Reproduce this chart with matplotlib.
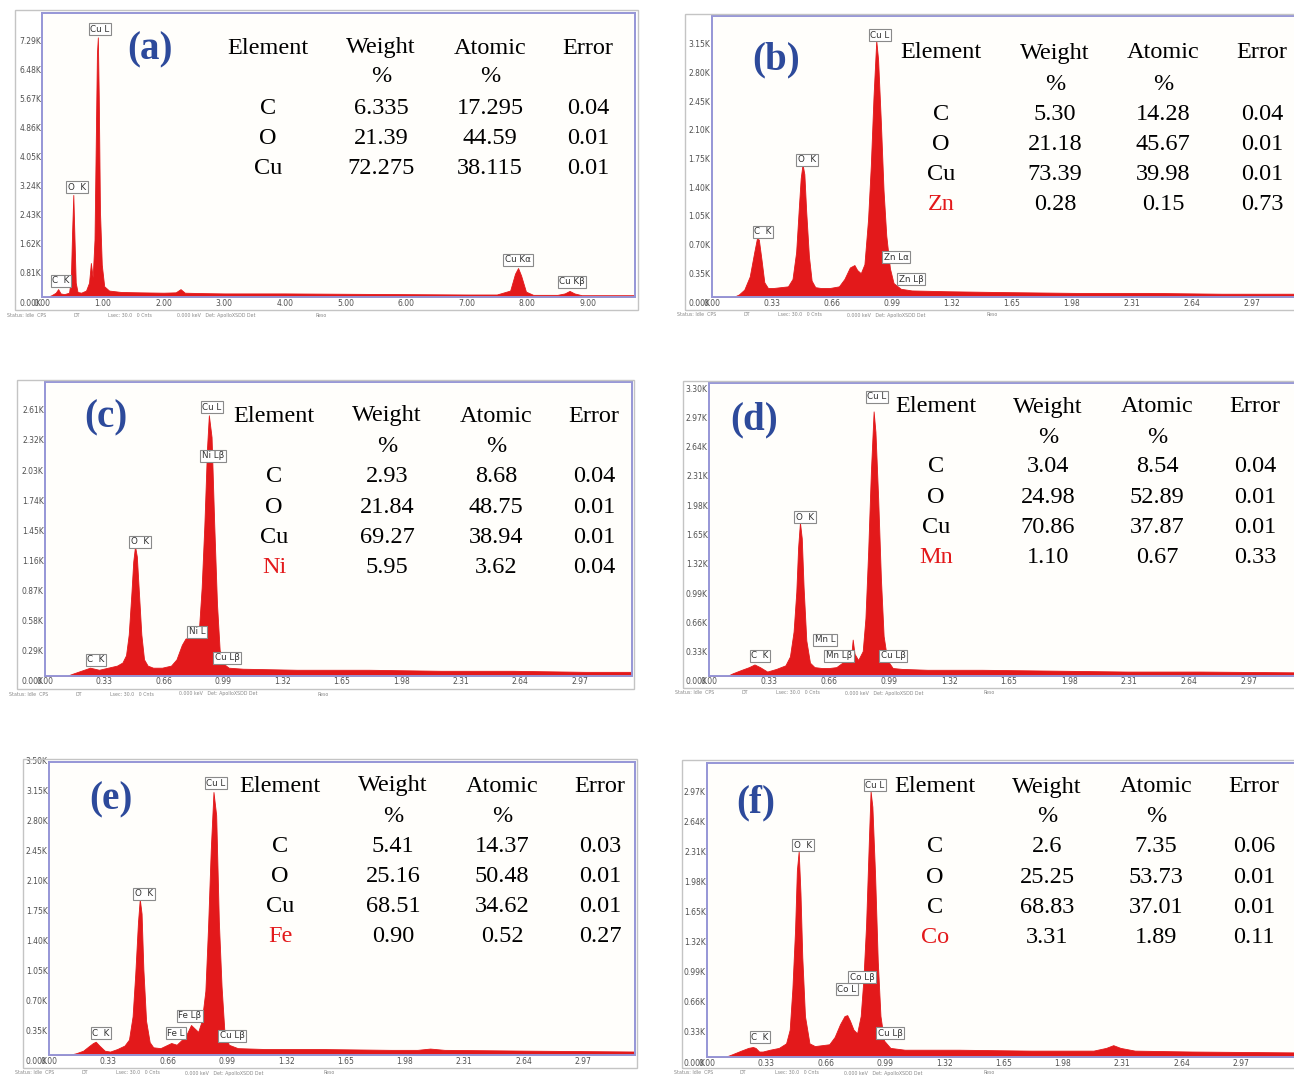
import matplotlib
matplotlib.use("Agg")
import matplotlib.pyplot as plt
import matplotlib.transforms as mtransforms
from matplotlib.patches import Rectangle

W, H = 1294, 1076

# ---- spectra (energy in keV, counts in K) ----
energy_a = [0.00, 0.08, 0.15, 0.22, 0.26, 0.30, 0.36, 0.44, 0.47, 0.49, 0.51, 0.53, 0.55, 0.58,
            0.64, 0.72, 0.77, 0.80, 0.83, 0.86, 0.88, 0.90, 0.915, 0.93, 0.95, 0.98, 1.02, 1.10,
            1.3, 1.6, 2.0, 2.2, 2.28, 2.35, 2.6, 3.0, 4.0, 5.0, 6.0, 7.0, 7.5, 7.72, 7.80, 7.85,
            7.90, 7.98, 8.1, 8.5, 8.62, 8.70, 8.78, 8.9, 9.4, 9.8]
counts_a = [0.00, 0.00, 0.05, 0.12, 0.22, 0.10, 0.08, 0.12, 0.50, 1.80, 2.85, 1.60, 0.40, 0.14,
            0.12, 0.18, 0.40, 0.95, 0.55, 1.60, 4.20, 6.80, 7.25, 5.60, 2.40, 0.90, 0.30, 0.18,
            0.14, 0.13, 0.12, 0.13, 0.22, 0.12, 0.11, 0.10, 0.10, 0.09, 0.08, 0.07, 0.07, 0.18,
            0.65, 0.81, 0.60, 0.15, 0.06, 0.06, 0.10, 0.17, 0.10, 0.05, 0.05, 0.05]

energy_b = [0.00, 0.12, 0.15, 0.18, 0.21, 0.235, 0.25, 0.26, 0.275, 0.29, 0.31, 0.34, 0.38, 0.42,
            0.445, 0.465, 0.48, 0.49, 0.50, 0.51, 0.52, 0.535, 0.55, 0.57, 0.60, 0.65, 0.70, 0.73,
            0.76, 0.785, 0.80, 0.82, 0.84, 0.86, 0.875, 0.89, 0.905, 0.915, 0.93, 0.945, 0.96,
            0.98, 1.00, 1.04, 1.10, 1.3, 1.6, 2.0, 2.4, 2.8, 3.3]
counts_b = [0.00, 0.00, 0.03, 0.09, 0.25, 0.55, 0.72, 0.70, 0.45, 0.18, 0.11, 0.11, 0.12, 0.13,
            0.22, 0.55, 1.10, 1.45, 1.62, 1.50, 1.05, 0.50, 0.20, 0.12, 0.11, 0.11, 0.13, 0.22,
            0.36, 0.39, 0.33, 0.29, 0.40, 0.95, 1.60, 2.45, 3.13, 2.90, 2.15, 1.30, 0.75,
            0.35, 0.17, 0.10, 0.08, 0.07, 0.06, 0.05, 0.05, 0.04, 0.04]

energy_c = [0.00, 0.12, 0.15, 0.20, 0.25, 0.30, 0.35, 0.40, 0.43, 0.45, 0.465, 0.48, 0.49, 0.50,
            0.51, 0.52, 0.535, 0.55, 0.57, 0.60, 0.65, 0.70, 0.73, 0.76, 0.78, 0.80, 0.82, 0.84,
            0.855, 0.87, 0.885, 0.90, 0.91, 0.925, 0.94, 0.955, 0.97, 0.99, 1.02, 1.10, 1.4,
            1.8, 2.2, 2.6, 3.0, 3.3]
counts_c = [0.00, 0.00, 0.02, 0.05, 0.08, 0.06, 0.08, 0.10, 0.13, 0.20, 0.40, 0.80, 1.10, 1.25,
            1.15, 0.85, 0.40, 0.16, 0.10, 0.08, 0.08, 0.10, 0.16, 0.30, 0.36, 0.37, 0.38, 0.36,
            0.45, 0.85, 1.45, 2.20, 2.51, 2.30, 1.45, 0.70, 0.25, 0.12, 0.08, 0.07, 0.06,
            0.06, 0.05, 0.05, 0.04, 0.04]

energy_d = [0.00, 0.10, 0.13, 0.18, 0.22, 0.25, 0.28, 0.32, 0.37, 0.42, 0.445, 0.465, 0.48, 0.49,
            0.50, 0.51, 0.52, 0.535, 0.555, 0.58, 0.62, 0.66, 0.70, 0.74, 0.77, 0.785, 0.79,
            0.80, 0.82, 0.845, 0.86, 0.875, 0.89, 0.905, 0.915, 0.93, 0.945, 0.96, 0.98, 1.01,
            1.06, 1.2, 1.5, 1.9, 2.3, 2.7, 3.3]
counts_d = [0.00, 0.00, 0.03, 0.07, 0.10, 0.13, 0.10, 0.05, 0.08, 0.12, 0.22, 0.50, 0.95, 1.45,
            1.73, 1.55, 1.00, 0.40, 0.15, 0.10, 0.09, 0.09, 0.10, 0.16, 0.22, 0.30, 0.41,
            0.25, 0.18, 0.28, 0.65, 1.40, 2.30, 2.98, 2.75, 2.00, 1.10, 0.45, 0.18, 0.09,
            0.08, 0.07, 0.07, 0.06, 0.05, 0.05, 0.04]

energy_e = [0.00, 0.11, 0.15, 0.19, 0.22, 0.245, 0.26, 0.28, 0.31, 0.34, 0.38, 0.42, 0.445, 0.465,
            0.48, 0.495, 0.505, 0.515, 0.525, 0.54, 0.56, 0.58, 0.62, 0.66, 0.68, 0.71, 0.74,
            0.765, 0.79, 0.80, 0.83, 0.85, 0.87, 0.885, 0.90, 0.915, 0.93, 0.945, 0.96, 0.975,
            1.00, 1.05, 1.2, 1.5, 1.9, 2.05, 2.12, 2.2, 2.7, 3.3]
counts_e = [0.00, 0.00, 0.02, 0.05, 0.10, 0.14, 0.155, 0.11, 0.05, 0.04, 0.07, 0.11, 0.18, 0.45,
            0.95, 1.55, 1.82, 1.65, 1.00, 0.40, 0.15, 0.09, 0.08, 0.12, 0.14, 0.12, 0.18,
            0.24, 0.35, 0.33, 0.27, 0.40, 0.75, 1.50, 2.40, 3.07, 2.80, 1.55, 0.80, 0.30,
            0.12, 0.08, 0.07, 0.07, 0.06, 0.06, 0.075, 0.06, 0.05, 0.04]

energy_f = [0.00, 0.10, 0.14, 0.19, 0.23, 0.255, 0.27, 0.29, 0.31, 0.35, 0.40, 0.44, 0.46, 0.475,
            0.49, 0.50, 0.51, 0.52, 0.53, 0.545, 0.57, 0.60, 0.64, 0.68, 0.71, 0.74, 0.765,
            0.78, 0.795, 0.815, 0.835, 0.855, 0.87, 0.885, 0.90, 0.91, 0.92, 0.935, 0.95,
            0.965, 0.985, 1.02, 1.1, 1.4, 1.8, 2.15, 2.22, 2.26, 2.30, 2.38, 2.7, 3.3]
counts_f = [0.00, 0.00, 0.03, 0.07, 0.10, 0.11, 0.10, 0.06, 0.06, 0.08, 0.10, 0.15, 0.30, 0.75,
            1.40, 2.05, 2.26, 1.80, 1.10, 0.45, 0.15, 0.12, 0.13, 0.14, 0.22, 0.36, 0.45,
            0.46, 0.40, 0.30, 0.26, 0.45, 0.85, 1.45, 2.35, 2.92, 2.75, 2.00, 1.05,
            0.45, 0.18, 0.10, 0.08, 0.08, 0.07, 0.07, 0.10, 0.13, 0.10, 0.07, 0.06, 0.05]

# ---- composition tables ----
elements_a = ["C", "O", "Cu"]
weight_a = ["6.335", "21.39", "72.275"]
atomic_a = ["17.295", "44.59", "38.115"]
error_a = ["0.04", "0.01", "0.01"]

elements_b = ["C", "O", "Cu", "Zn"]
weight_b = ["5.30", "21.18", "73.39", "0.28"]
atomic_b = ["14.28", "45.67", "39.98", "0.15"]
error_b = ["0.04", "0.01", "0.01", "0.73"]

elements_c = ["C", "O", "Cu", "Ni"]
weight_c = ["2.93", "21.84", "69.27", "5.95"]
atomic_c = ["8.68", "48.75", "38.94", "3.62"]
error_c = ["0.04", "0.01", "0.01", "0.04"]

elements_d = ["C", "O", "Cu", "Mn"]
weight_d = ["3.04", "24.98", "70.86", "1.10"]
atomic_d = ["8.54", "52.89", "37.87", "0.67"]
error_d = ["0.04", "0.01", "0.01", "0.33"]

elements_e = ["C", "O", "Cu", "Fe"]
weight_e = ["5.41", "25.16", "68.51", "0.90"]
atomic_e = ["14.37", "50.48", "34.62", "0.52"]
error_e = ["0.03", "0.01", "0.01", "0.27"]

elements_f = ["C", "O", "C", "Co"]
weight_f = ["2.6", "25.25", "68.83", "3.31"]
atomic_f = ["7.35", "53.73", "37.01", "1.89"]
error_f = ["0.06", "0.01", "0.01", "0.11"]

# ---- axis ticks ----
xticks_a = [0, 1, 2, 3, 4, 5, 6, 7, 8, 9]
xticks_lo = [0, 0.33, 0.66, 0.99, 1.32, 1.65, 1.98, 2.31, 2.64, 2.97]
yticks_a = [0, 0.81, 1.62, 2.43, 3.24, 4.05, 4.86, 5.67, 6.48, 7.29]
yticks_b = [0, 0.35, 0.70, 1.05, 1.40, 1.75, 2.10, 2.45, 2.80, 3.15]
yticks_c = [0, 0.29, 0.58, 0.87, 1.16, 1.45, 1.74, 2.03, 2.32, 2.61]
yticks_d = [0, 0.33, 0.66, 0.99, 1.32, 1.65, 1.98, 2.31, 2.64, 2.97, 3.30]
yticks_e = [0, 0.35, 0.70, 1.05, 1.40, 1.75, 2.10, 2.45, 2.80, 3.15, 3.50]
yticks_f = [0, 0.33, 0.66, 0.99, 1.32, 1.65, 1.98, 2.31, 2.64, 2.97]

RED = "#e3191b"
BLUE = "#2d4a9b"
FRAME = "#9696d6"
SERIF = "Liberation Serif"

fig = plt.figure(figsize=(W / 100, H / 100), dpi=100)


def fx(px):
    return px / W


def fy(py):
    return 1 - py / H


panels = [
    # plot box / outer frame / letter / table positions are in picture pixels
    dict(name="(a)", E=energy_a, C=counts_a, box=(42.4, 13, 635, 297), outer=(15, 10, 638, 310),
         xlim=(0, 9.78), ylim=(0, 7.93), xt=xticks_a, yt=yticks_a, letter=(150, 50),
         cols=(268, 381, 490, 588), ty=(48, 77, 108), el=elements_a, w=weight_a, a=atomic_a,
         er=error_a, foot=316,
         peaks=[(100, 29, "Cu L"), (77, 187, "O  K"), (61, 281, "C  K"), (518, 260, "Cu K\u03b1"),
                (572, 282, "Cu K\u03b2")]),
    dict(name="(b)", E=energy_b, C=counts_b, box=(711.5, 16, 1305, 297), outer=(685, 14, 1310, 310),
         xlim=(0, 3.26), ylim=(0, 3.43), xt=xticks_lo, yt=yticks_b, letter=(776, 60),
         cols=(941, 1055, 1163, 1262), ty=(53, 84, 114), el=elements_b, w=weight_b, a=atomic_b,
         er=error_b, foot=315,
         peaks=[(880, 35, "Cu L"), (807, 160, "O  K"), (763, 232, "C  K"), (896, 257, "Zn L\u03b1"),
                (911, 279, "Zn L\u03b2")]),
    dict(name="(c)", E=energy_c, C=counts_c, box=(45, 382, 632, 676), outer=(17, 380, 634, 689),
         xlim=(0, 3.26), ylim=(0, 2.83), xt=xticks_lo, yt=yticks_c, letter=(106, 418),
         cols=(274, 387, 496, 594), ty=(416, 446, 477), el=elements_c, w=weight_c, a=atomic_c,
         er=error_c, foot=694,
         peaks=[(212, 407, "Cu L"), (213, 456, "Ni L\u03b2"), (140, 542, "O  K"), (197, 632, "Ni L"),
                (96, 660, "C  K"), (227, 658, "Cu L\u03b2")]),
    dict(name="(d)", E=energy_d, C=counts_d, box=(709, 383, 1302, 676), outer=(683, 381, 1310, 688),
         xlim=(0, 3.26), ylim=(0, 3.30), xt=xticks_lo, yt=yticks_d, letter=(754, 420),
         cols=(936, 1048, 1157, 1255), ty=(407, 437, 467), el=elements_d, w=weight_d, a=atomic_d,
         er=error_d, foot=693,
         peaks=[(877, 397, "Cu L"), (805, 517, "O  K"), (825, 640, "Mn L"), (839, 656, "Mn L\u03b2"),
                (760, 656, "C  K"), (893, 656, "Cu L\u03b2")]),
    dict(name="(e)", E=energy_e, C=counts_e, box=(49, 762, 635, 1055), outer=(23, 759, 637, 1068),
         xlim=(0, 3.26), ylim=(0, 3.42), xt=xticks_lo, yt=yticks_e, letter=(111, 800),
         cols=(280, 393, 502, 600), ty=(786, 816, 846), el=elements_e, w=weight_e, a=atomic_e,
         er=error_e, foot=1073,
         peaks=[(216, 783, "Cu L"), (144, 894, "O  K"), (190, 1016, "Fe L\u03b2"), (176, 1033, "Fe L"),
                (101, 1033, "C  K"), (232, 1036, "Cu L\u03b2")]),
    dict(name="(f)", E=energy_f, C=counts_f, box=(707, 763, 1302, 1057), outer=(682, 760, 1310, 1068),
         xlim=(0, 3.31), ylim=(0, 3.23), xt=xticks_lo, yt=yticks_f, letter=(756, 803),
         cols=(935, 1047, 1156, 1254), ty=(787, 817, 847), el=elements_f, w=weight_f, a=atomic_f,
         er=error_f, foot=1073,
         peaks=[(875, 785, "Cu L"), (803, 845, "O  K"), (847, 989, "Co L"), (862, 977, "Co L\u03b2"),
                (760, 1037, "C  K"), (890, 1033, "Cu L\u03b2")]),
]

for p in panels:
    l, t, r, b = p["box"]
    ol, ot, orr, ob = p["outer"]
    frame = Rectangle((fx(ol), fy(ob)), (orr - ol) / W, (ob - ot) / H, transform=fig.transFigure,
                      fill=False, ec="#c4c4c4", lw=1.0, zorder=0)
    fig.patches.append(frame)

    ax = fig.add_axes([fx(l), fy(b), (r - l) / W, (b - t) / H])
    ax.set_facecolor("#fffefb")
    ax.fill_between(p["E"], p["C"], 0, color=RED, lw=0.6, edgecolor=RED)
    ax.set_xlim(*p["xlim"])
    ax.set_ylim(*p["ylim"])
    ax.set_xticks([])
    ax.set_yticks([])
    for s in ax.spines.values():
        s.set_color(FRAME)
        s.set_linewidth(1.4)

    # software-style tick labels, sitting a little below their values
    down = mtransforms.ScaledTranslation(0, -0.06, fig.dpi_scale_trans)
    ytr = mtransforms.blended_transform_factory(ax.transAxes, ax.transData) + down
    for v in p["yt"]:
        txt = ax.text(-0.002, v, "%.2fK" % v, transform=ytr, ha="right", va="center",
                      fontsize=5.5, color="#505050", clip_on=False)
        if v > p["ylim"][1]:
            txt.set_clip_path(frame)
    xtr = mtransforms.blended_transform_factory(ax.transData, ax.transAxes) + down
    for v in p["xt"]:
        if v <= p["xlim"][1]:
            ax.text(v, 0, "%.2f" % v, transform=xtr, ha="center", va="center",
                    fontsize=5.5, color="#505050", clip_on=False)

    # status line under each spectrum
    for dx, s in [(-8, "Status: Idle  CPS"), (58, "DT"), (93, "Lsec: 30.0   0 Cnts"),
                  (162, "0.000 keV   Det: ApolloXSDD Det"), (301, "Reso")]:
        fig.text(fx(ol + dx), fy(p["foot"]), s, fontsize=3.4, color="#888888", va="center")

    # peak identification boxes
    for px, py, s in p["peaks"]:
        fig.text(fx(px), fy(py), s, ha="center", va="center", fontsize=6.3, color="#333333",
                 bbox=dict(boxstyle="square,pad=0.18", fc="white", ec="#8a8a8a", lw=0.8))

    fig.text(fx(p["letter"][0]), fy(p["letter"][1]), p["name"], ha="center", va="center",
             fontsize=28, fontweight="bold", family=SERIF, color=BLUE)

    cx = p["cols"]
    yh, yp, y0 = p["ty"]
    for x, s in zip(cx, ["Element", "Weight", "Atomic", "Error"]):
        fig.text(fx(x), fy(yh), s, ha="center", va="center", fontsize=17.5, family=SERIF)
    for x in cx[1:3]:
        fig.text(fx(x), fy(yp), "%", ha="center", va="center", fontsize=17.5, family=SERIF)
    for i in range(len(p["el"])):
        yy = fy(y0 + i * 30.3)
        fig.text(fx(cx[0]), yy, p["el"][i], ha="center", va="center", fontsize=17.5,
                 family=SERIF, color=RED if i == 3 else "black")
        for x, col in zip(cx[1:], [p["w"], p["a"], p["er"]]):
            fig.text(fx(x), yy, col[i], ha="center", va="center", fontsize=17.5, family=SERIF)

fig.savefig("out.png", dpi=100)
